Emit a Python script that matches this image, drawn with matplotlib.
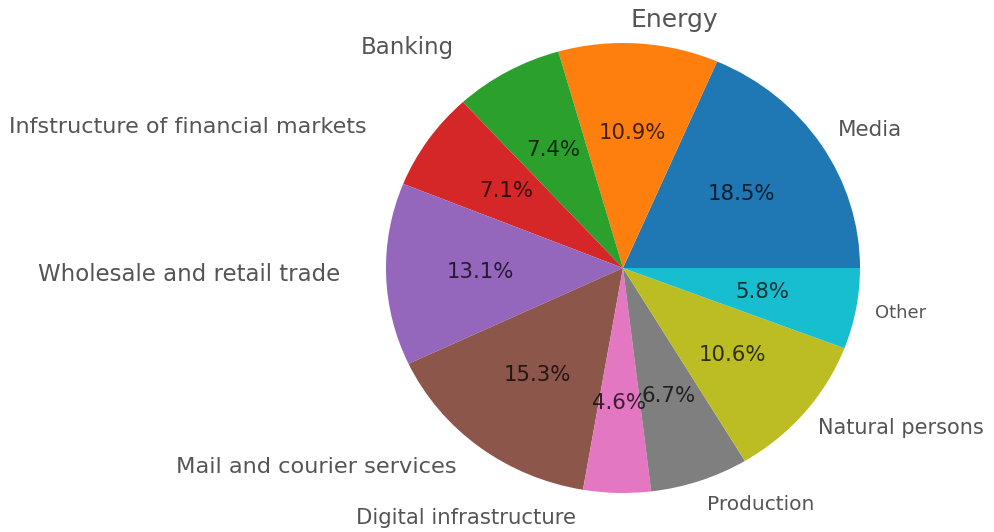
import matplotlib
matplotlib.use("Agg")
import matplotlib.pyplot as plt
from matplotlib.transforms import ScaledTranslation

sectors = ["Media", "Energy", "Banking", "Infstructure of financial markets",
           "Wholesale and retail trade", "Mail and courier services",
           "Digital infrastructure", "Production", "Natural persons", "Other"]
shares = [18.5, 10.9, 7.4, 7.1, 13.1, 15.3, 4.6, 6.7, 10.6, 5.8]

# per-label font size and a small nudge (points) away from the default anchor
label_sizes = [15.5, 18, 16.5, 16, 16.5, 16.2, 15.3, 14.5, 15, 13]
label_nudge = [(-2, 1.5), (-7, 0.5), (-30, 3), (-30, 0), (-16, 0),
               (-6, -1.5), (-29, -2), (-0.5, -2), (-3.5, -0.5), (-3.5, 0)]

fig = plt.figure(figsize=(9.94, 5.32), dpi=100)
ax = fig.add_axes([0.3287, -0.0324, 0.5961, 1.0573])

wedges, texts, autotexts = ax.pie(
    shares, labels=sectors, autopct="%1.1f%%", startangle=0,
    labeldistance=1.1, pctdistance=0.6,
    textprops=dict(fontsize=15.3),
)
for t in autotexts:
    t.set_color("black")
    t.set_alpha(0.75)
for t, s, (dx, dy) in zip(texts, label_sizes, label_nudge):
    t.set_fontsize(s)
    t.set_color("#555555")
    t.set_transform(t.get_transform() + ScaledTranslation(dx / 72, dy / 72, fig.dpi_scale_trans))

ax.set_xlim(-1.25, 1.25)
ax.set_ylim(-1.25, 1.25)
ax.set_aspect("auto")

fig.savefig("out.png", dpi=100)
